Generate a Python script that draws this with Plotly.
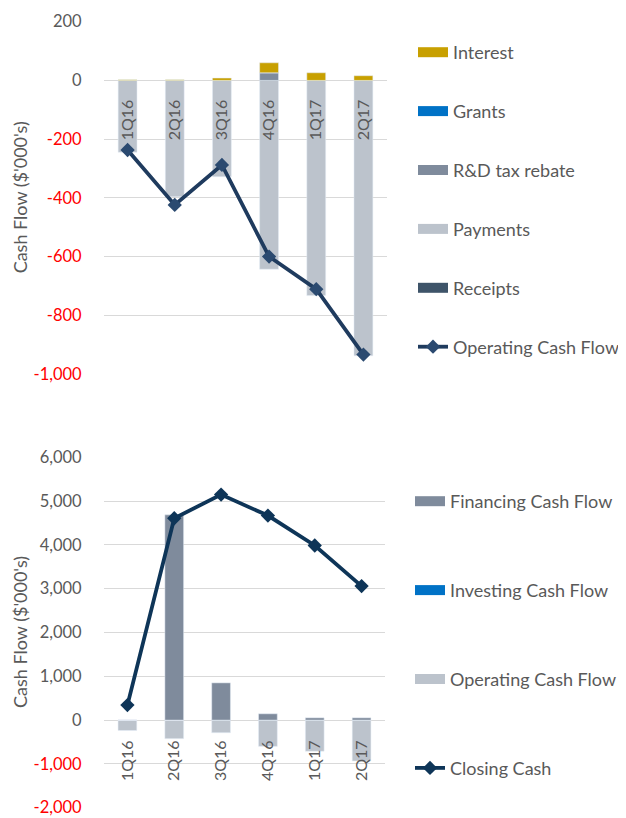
import plotly.graph_objects as go

categories = ['1Q16', '2Q16', '3Q16', '4Q16', '1Q17', '2Q17']

# Top chart: operating cash flow components ($'000s)
receipts = [0, 0, 0, 0, 0, 0]
payments = [-245, -396, -328, -643, -733, -938]
rd_tax_rebate = [0, 0, 0, 26, 0, 0]
grants = [0, 0, 0, 0, 0, 0]
interest = [2, 2, 8, 34, 26, 16]
operating_cf = [-237, -424, -288, -600, -711, -934]

# Bottom chart: cash flow summary ($'000s)
financing_cf = [0, 4686, 850, 144, 52, 52]
investing_cf = [0, 0, 0, 0, 0, 0]
operating_cf_bars = [-237, -424, -288, -600, -711, -934]
closing_cash = [342, 4608, 5148, 4670, 3986, 3060]

top_ticks = [200, 0, -200, -400, -600, -800, -1000]
bottom_ticks = [6000, 5000, 4000, 3000, 2000, 1000, 0, -1000, -2000]

# page body has an 8px margin: the figure starts at (8, 8) in the window
OFF = 8
W, H = 626 - OFF, 818 - OFF
FONT = 'Lato'
GRAY = '#595959'
RED = '#FF0000'
FS = 18
FS_LEG = 18
FS_YTICK = 16.5
FS_XTICK = 16

C_INTEREST = '#C8A000'
C_GRANTS = '#0072C6'
C_RD = '#7F8B9C'
C_PAY = '#BCC3CC'
C_REC = '#3E5469'
C_LINE_TOP = '#1F3B5E'
C_MARK_TOP = '#2B4A70'
C_LINE_BOT = '#0E3558'


def tick_text(v):
    s = f'{v:,}'
    if v < 0:
        return f"<span style='color:{RED}'>{s}</span>"
    return s


def px_x(p):
    return (p - OFF) / W


def px_y(p):
    return 1 - (p - OFF) / H


fig = go.Figure()

# ---- top chart bars (stack order: receipts, payments, R&D, grants, interest)
top_series = [
    ('Receipts', receipts, C_REC, 5),
    ('Payments', payments, C_PAY, 4),
    ('R&D tax rebate', rd_tax_rebate, C_RD, 3),
    ('Grants', grants, C_GRANTS, 2),
    ('Interest', interest, C_INTEREST, 1),
]
for name, vals, col, rank in top_series:
    fig.add_trace(go.Bar(x=categories, y=vals, name=name, marker_color=col,
                         showlegend=False, legendgroup='t' + name,
                         xaxis='x', yaxis='y'))
    fig.add_trace(go.Scatter(x=[None], y=[None], mode='lines', name=name,
                             line=dict(color=col, width=11),
                             legendgroup='t' + name, legendrank=rank,
                             legend='legend', xaxis='x', yaxis='y'))

fig.add_trace(go.Scatter(x=categories, y=operating_cf, name='Operating Cash Flow',
                         mode='lines+markers',
                         line=dict(color=C_LINE_TOP, width=3.8),
                         marker=dict(symbol='diamond', size=11, color=C_MARK_TOP),
                         legendgroup='tOCF', legendrank=6, legend='legend',
                         xaxis='x', yaxis='y'))

# ---- bottom chart bars
bottom_series = [
    ('Operating Cash Flow', operating_cf_bars, C_PAY, 3),
    ('Investing Cash Flow', investing_cf, C_GRANTS, 2),
    ('Financing Cash Flow', financing_cf, C_RD, 1),
]
for name, vals, col, rank in bottom_series:
    fig.add_trace(go.Bar(x=categories, y=vals, name=name, marker_color=col,
                         showlegend=False, legendgroup='b' + name,
                         xaxis='x2', yaxis='y2'))
    fig.add_trace(go.Scatter(x=[None], y=[None], mode='lines', name=name,
                             line=dict(color=col, width=11),
                             legendgroup='b' + name, legendrank=rank,
                             legend='legend2', xaxis='x2', yaxis='y2'))

fig.add_trace(go.Scatter(x=categories, y=closing_cash, name='Closing Cash',
                         mode='lines+markers',
                         line=dict(color=C_LINE_BOT, width=3.8),
                         marker=dict(symbol='diamond', size=11, color=C_LINE_BOT),
                         legendgroup='bCC', legendrank=4, legend='legend2',
                         xaxis='x2', yaxis='y2'))

x_common = dict(type='category', showgrid=False, showline=False, zeroline=False,
                tickangle=-90, ticks='outside', ticklen=12,
                tickcolor='rgba(0,0,0,0)',
                tickfont=dict(family=FONT, size=FS_XTICK, color=GRAY),
                anchor='free', categoryorder='array', categoryarray=categories)
y_common = dict(showgrid=True, gridcolor='#D9D9D9', gridwidth=1, zeroline=False,
                showline=False, ticks='outside', ticklen=18,
                tickcolor='rgba(0,0,0,0)',
                tickfont=dict(family=FONT, size=FS_YTICK, color=GRAY),
                tickmode='array')

top_dom = [px_y(374), px_y(21.7)]
bot_dom = [px_y(807.7), px_y(457.3)]

legend_font = dict(family=FONT, size=FS_LEG, color=GRAY)

fig.update_layout(
    width=W, height=H,
    margin=dict(l=0, r=0, t=0, b=0, autoexpand=False),
    paper_bgcolor='white', plot_bgcolor='white',
    barmode='relative', bargap=0.6,
    font=dict(family=FONT, size=FS, color=GRAY),
    xaxis=dict(domain=[px_x(104), px_x(387)], position=px_y(80.3), **x_common),
    yaxis=dict(domain=top_dom, range=[-1000, 200], tickvals=top_ticks,
               ticktext=[tick_text(v) for v in top_ticks], **y_common),
    xaxis2=dict(domain=[px_x(104), px_x(385)], position=px_y(721), **x_common),
    yaxis2=dict(domain=bot_dom, range=[-2000, 6000], tickvals=bottom_ticks,
                ticktext=[tick_text(v) for v in bottom_ticks], **y_common),
    legend=dict(x=px_x(413), y=px_y(34), xanchor='left', yanchor='top',
                traceorder='grouped', tracegroupgap=32.5, font=legend_font,
                bgcolor='rgba(0,0,0,0)'),
    legend2=dict(x=px_x(410), y=px_y(483), xanchor='left', yanchor='top',
                 traceorder='grouped', tracegroupgap=62.5, font=legend_font,
                 bgcolor='rgba(0,0,0,0)'),
    annotations=[
        dict(text="Cash Flow ($'000's)", xref='paper', yref='paper',
             x=px_x(19.5), y=sum(top_dom) / 2, textangle=-90, showarrow=False,
             xanchor='center', yanchor='middle',
             font=dict(family=FONT, size=FS, color=GRAY)),
        dict(text="Cash Flow ($'000's)", xref='paper', yref='paper',
             x=px_x(19.5), y=sum(bot_dom) / 2, textangle=-90, showarrow=False,
             xanchor='center', yanchor='middle',
             font=dict(family=FONT, size=FS, color=GRAY)),
    ],
)

fig.write_html('out.html')
